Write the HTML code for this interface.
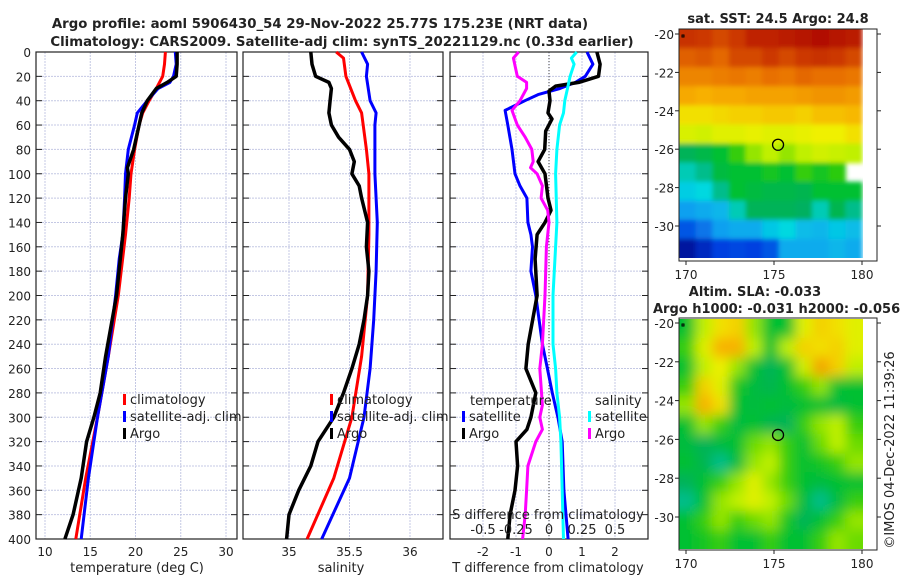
<!DOCTYPE html>
<html><head><meta charset="utf-8"><style>
html,body{margin:0;padding:0;background:#fff;}
svg text{font-family:"DejaVu Sans","Liberation Sans",sans-serif;fill:#222;}
</style></head><body>
<svg id="fig" width="900" height="580" viewBox="0 0 900 580" xmlns="http://www.w3.org/2000/svg">
<defs>
<filter id="blur" x="-0.2" y="-0.2" width="1.4" height="1.4"><feGaussianBlur stdDeviation="6"/></filter>
<filter id="blurSst" x="-0.2" y="-0.2" width="1.4" height="1.4"><feGaussianBlur stdDeviation="2.5"/></filter>
<clipPath id="clipSla"><rect x="679" y="319" width="184" height="230"/></clipPath>
<clipPath id="clipSst"><rect x="679" y="29" width="184" height="229"/></clipPath>
</defs>
<text x="320" y="28" text-anchor="middle" font-size="13.3" font-weight="bold">Argo profile: aoml 5906430_54 29-Nov-2022 25.77S 175.23E (NRT data)</text>
<text x="342" y="46" text-anchor="middle" font-size="13.3" font-weight="bold">Climatology: CARS2009. Satellite-adj clim: synTS_20221129.nc (0.33d earlier)</text>
<g id="plots"></g>
<text x="778" y="23" text-anchor="middle" font-size="13" font-weight="bold">sat. SST: 24.5 Argo: 24.8</text>
<text x="755" y="296" text-anchor="middle" font-size="13" font-weight="bold">Altim. SLA: -0.033</text>
<text x="653" y="313" font-size="13" font-weight="bold">Argo h1000: -0.031 h2000: -0.056</text>
<text transform="translate(894,450) rotate(-90)" text-anchor="middle" font-size="13">©IMOS 04-Dec-2022 11:39:26</text>
</svg>
<script>
// ---- data ----
const depthTclim = [0,10,20,30,40,50,60,80,100,120,150,200,250,300,350,400];
const tempClim   = [23.3,23.2,23.0,22.3,21.5,20.8,20.4,19.9,19.5,19.3,18.9,18.1,17.0,15.8,14.5,13.4];
const depthTsat  = [0,10,20,25,30,40,50,60,80,100,120,150,170,200,250,300,350,400];
const tempSat    = [24.4,24.5,24.2,23.8,22.5,21.3,20.2,19.9,19.2,18.9,18.8,18.6,18.2,17.8,17.0,15.8,14.8,14.0];
const depthTargo = [0,10,20,25,30,40,50,60,80,95,100,120,150,200,250,280,300,320,350,380,400];
const tempArgo   = [24.6,24.6,24.5,23.5,22.3,21.3,20.7,20.4,19.8,19.1,19.2,18.9,18.6,17.9,16.7,16.1,15.4,14.6,14.0,13.1,12.2];

const depthSclim = [0,5,20,40,50,80,100,150,200,250,300,350,400];
const salClim    = [35.39,35.45,35.47,35.55,35.6,35.64,35.66,35.66,35.65,35.6,35.52,35.37,35.15];
const depthSsat  = [0,10,20,40,50,60,100,140,180,220,260,300,350,400];
const salSat     = [35.6,35.65,35.64,35.67,35.72,35.71,35.71,35.73,35.72,35.7,35.67,35.62,35.5,35.27];
const depthSargo = [0,10,20,25,30,40,50,60,70,80,90,100,110,120,140,160,180,200,220,240,260,280,300,320,340,360,380,400];
const salArgo    = [35.18,35.19,35.22,35.33,35.35,35.34,35.33,35.35,35.41,35.5,35.54,35.52,35.58,35.6,35.65,35.64,35.66,35.65,35.62,35.58,35.52,35.45,35.37,35.24,35.18,35.08,35.0,34.98];

const depthDTsat = [0,10,20,25,30,35,40,48,60,80,100,110,120,140,150,160,180,200,220,240,260,280,300,320,360,400];
const dTsat      = [1.15,1.33,1.1,0.8,0.33,-0.33,-0.73,-1.33,-1.25,-1.12,-1.03,-0.88,-0.67,-0.64,-0.55,-0.5,-0.55,-0.4,-0.3,-0.2,-0.05,0.1,0.27,0.4,0.45,0.58];
const depthDTargo = [0,10,20,25,28,32,40,50,55,65,80,90,100,120,130,140,150,170,200,240,260,280,300,310,320,340,360,380,400];
const dTargo      = [1.45,1.55,1.5,0.9,0.2,0.0,0.03,-0.03,0.09,-0.1,-0.13,-0.33,-0.12,-0.03,0.06,-0.12,-0.36,-0.42,-0.36,-0.63,-0.7,-0.4,-0.55,-0.67,-1.0,-0.95,-1.03,-1.18,-1.25];
const depthDSsat = [0,5,10,20,30,40,50,60,80,100,140,180,200,240,260,280,300,320,360,400];
const dSsat      = [0.21,0.17,0.19,0.16,0.14,0.12,0.11,0.08,0.06,0.05,0.06,0.04,0.03,0.03,0.05,0.06,0.08,0.09,0.1,0.11];
const depthDSargo = [0,5,20,25,30,40,48,60,70,80,90,95,100,110,120,130,140,160,200,240,260,290,300,310,320,340,360,380,400];
const dSargo      = [-0.23,-0.27,-0.24,-0.17,-0.17,-0.22,-0.28,-0.24,-0.18,-0.13,-0.12,-0.14,-0.09,-0.05,-0.06,-0.01,0.0,-0.02,-0.03,-0.05,-0.07,-0.05,-0.07,-0.05,-0.1,-0.16,-0.17,-0.18,-0.2];

const sstGrid = [
[0.93,0.92,0.90,0.92,0.95,0.95,0.96,0.97,0.98,0.97,0.96],
[0.87,0.88,0.86,0.90,0.90,0.92,0.90,0.92,0.93,0.92,0.90],
[0.82,0.82,0.83,0.84,0.83,0.85,0.84,0.86,0.85,0.85,0.84],
[0.77,0.76,0.77,0.77,0.78,0.78,0.78,0.79,0.80,0.80,0.79],
[0.70,0.70,0.71,0.72,0.72,0.73,0.73,0.72,0.74,0.74,0.75],
[0.65,0.64,0.66,0.66,0.67,0.66,0.66,0.67,0.68,0.68,0.70],
[0.45,0.47,0.50,0.55,0.60,0.62,0.60,0.62,0.64,0.63,0.62],
[0.40,0.42,0.48,0.50,0.50,0.52,0.50,0.55,0.52,0.54,null],
[0.36,0.38,0.42,0.50,0.48,0.47,0.47,0.46,0.50,0.50,0.50],
[0.28,0.30,0.32,0.40,0.45,0.45,0.45,0.44,0.40,0.46,0.42],
[0.18,0.22,0.28,0.30,0.30,0.35,0.38,0.33,0.32,0.35,0.33],
[0.05,0.10,0.15,0.16,0.15,0.18,0.30,0.30,0.30,0.32,0.30]];
const slaGrid = [
[0.50,0.62,0.70,0.72,0.60,0.50,0.50,0.66,0.72,0.70,0.66],
[0.55,0.66,0.76,0.76,0.62,0.50,0.62,0.72,0.70,0.72,0.66],
[0.50,0.62,0.68,0.60,0.50,0.45,0.50,0.64,0.78,0.72,0.62],
[0.55,0.72,0.66,0.52,0.48,0.46,0.50,0.55,0.60,0.50,0.50],
[0.60,0.76,0.70,0.50,0.48,0.50,0.48,0.50,0.50,0.48,0.50],
[0.50,0.60,0.55,0.48,0.50,0.46,0.45,0.55,0.60,0.62,0.55],
[0.48,0.45,0.48,0.50,0.58,0.60,0.55,0.50,0.58,0.62,0.58],
[0.50,0.46,0.42,0.48,0.60,0.62,0.55,0.50,0.52,0.55,0.60],
[0.45,0.50,0.55,0.60,0.66,0.60,0.55,0.50,0.48,0.50,0.50],
[0.42,0.50,0.60,0.62,0.66,0.62,0.58,0.48,0.42,0.48,0.55],
[0.50,0.55,0.60,0.55,0.58,0.60,0.52,0.45,0.50,0.55,0.60],
[0.50,0.52,0.55,0.50,0.50,0.55,0.50,0.50,0.55,0.60,0.58]];
const argoLon = 175.23, argoLat = -25.77;
const depthTicks = [0,20,40,60,80,100,120,140,160,180,200,220,240,260,280,300,320,340,360,380,400];

// ---- drawing ----
const NS='http://www.w3.org/2000/svg';
const root=document.getElementById('plots');
function mk(tag,attrs,parent){const e=document.createElementNS(NS,tag);for(const k in attrs)e.setAttribute(k,attrs[k]);(parent||root).appendChild(e);return e;}
const yTop=52,yBot=539;
const yD=d=>yTop+(d/400)*(yBot-yTop);
function lin(d0,d1,r0,r1){return v=>r0+(v-d0)/(d1-d0)*(r1-r0);}

function panel(name,x0,x1,xs,xticks,xlabels,showY){
  const g=mk('g',{});
  
  
  xticks.forEach(t=>{const gx=mk('line',{x1:xs(t),x2:xs(t),y1:yTop,y2:yBot,stroke:'#c4c8e4','stroke-width':1,'stroke-dasharray':'2,1'},g);
    });
  depthTicks.forEach(d=>{const gy=mk('line',{x1:x0,x2:x1,y1:yD(d),y2:yD(d),stroke:'#c4c8e4','stroke-width':1,'stroke-dasharray':'2,1'},g);
    
    mk('line',{x1:x0,x2:x0+6,y1:yD(d),y2:yD(d),stroke:'#222'},g);
    mk('line',{x1:x1-6,x2:x1,y1:yD(d),y2:yD(d),stroke:'#222'},g);
    if(showY){const t=mk('text',{x:x0-5,y:yD(d)+5,'text-anchor':'end','font-size':12},g);t.textContent=d;
      }
  });
  if(xlabels){xticks.forEach((t,i)=>{const tx=mk('text',{x:xs(t),y:556,'text-anchor':'middle','font-size':12},g);tx.textContent=xlabels[i];
    });}
  const fr=mk('rect',{x:x0,y:yTop,width:x1-x0,height:yBot-yTop,fill:'none',stroke:'#222','stroke-width':1.2},g);
  
  return g;
}
function series(g,name,xs,depths,vals,color,w){
  const pts=vals.map((v,i)=>xs(v).toFixed(1)+','+yD(depths[i]).toFixed(1)).join(' ');
  const p=mk('polyline',{points:pts,fill:'none',stroke:color,'stroke-width':w||3,'stroke-linejoin':'round'},g);
  
  
}
function legend(g,x,y,color,label,name){
  const r=mk('rect',{x:x,y:y-10,width:3,height:11,fill:color},g);
  
  const t=mk('text',{x:x+7,y:y,'font-size':13},g);t.textContent=label;
  
}
function txt(g,x,y,s,name,anchor,size){const t=mk('text',{x:x,y:y,'text-anchor':anchor||'middle','font-size':size||13},g);t.textContent=s;
  return t;}

// Panel 1 temperature
const xT=lin(10,30,45,226);
const p1=panel('temperature-panel',36,237,xT,[10,15,20,25,30],['10','15','20','25','30'],true);
series(p1,'temp-climatology-line',xT,depthTclim,tempClim,'#ff0000');
series(p1,'temp-satellite-line',xT,depthTsat,tempSat,'#0000ff');
series(p1,'temp-argo-line',xT,depthTargo,tempArgo,'#000000',3.5);
legend(p1,123,404,'#ff0000','climatology','legend-climatology');
legend(p1,123,421,'#0000ff','satellite-adj. clim','legend-satellite');
legend(p1,123,438,'#000000','Argo','legend-argo');
txt(p1,137,572,'temperature (deg C)','x-axis-title-temperature');

// Panel 2 salinity
const xS=lin(35,36,289,410);
const p2=panel('salinity-panel',243,443,xS,[35,35.5,36],['35','35.5','36'],false);
series(p2,'sal-climatology-line',xS,depthSclim,salClim,'#ff0000');
series(p2,'sal-satellite-line',xS,depthSsat,salSat,'#0000ff');
series(p2,'sal-argo-line',xS,depthSargo,salArgo,'#000000',3.5);
legend(p2,330,404,'#ff0000','climatology','legend-climatology-2');
legend(p2,330,421,'#0000ff','satellite-adj. clim','legend-satellite-2');
legend(p2,330,438,'#000000','Argo','legend-argo-2');
txt(p2,341,572,'salinity','x-axis-title-salinity');

// Panel 3 differences
const xdT=lin(0,1,549,582);
const xdS=lin(0,0.25,549,582);
const p3=panel('difference-panel',450,648,xdT,[-2,-1,0,1,2],['-2','-1','0','1','2'],false);
const zl=mk('line',{x1:xdT(0),x2:xdT(0),y1:yTop,y2:yBot,stroke:'#444','stroke-dasharray':'1,2'},p3);

series(p3,'dT-satellite-line',xdT,depthDTsat,dTsat,'#0000ff');
series(p3,'dT-argo-line',xdT,depthDTargo,dTargo,'#000000',3.5);
series(p3,'dS-satellite-line',xdS,depthDSsat,dSsat,'#00ffff');
series(p3,'dS-argo-line',xdS,depthDSargo,dSargo,'#ff00ff');
txt(p3,470,405,'temperature','legend-temperature-header','start');
legend(p3,462,421,'#0000ff','satellite','legend-dT-satellite');
legend(p3,462,438,'#000000','Argo','legend-dT-argo');
txt(p3,595,405,'salinity','legend-salinity-header','start');
legend(p3,588,421,'#00ffff','satellite','legend-dS-satellite');
legend(p3,588,438,'#ff00ff','Argo','legend-dS-argo');
txt(p3,548,519,'S difference from climatology','s-axis-title');
[-0.5,-0.25,0,0.25,0.5].forEach(v=>{txt(p3,xdS(v),534,String(v),'s-tick-label');});
txt(p3,548,572,'T difference from climatology','x-axis-title-diff');

// colormap
const cmStops=[[0,[0,0,127]],[0.15,[0,64,224]],[0.28,[16,160,240]],[0.38,[0,216,224]],[0.44,[0,176,96]],[0.5,[0,192,48]],[0.56,[64,208,0]],[0.62,[192,240,0]],[0.68,[240,240,0]],[0.76,[248,176,0]],[0.85,[232,112,0]],[0.93,[200,48,0]],[1,[168,0,0]]];
function cmap(v){for(let i=1;i<cmStops.length;i++){if(v<=cmStops[i][0]){const a=cmStops[i-1],b=cmStops[i],f=(v-a[0])/(b[0]-a[0]);
  const c=a[1].map((x,k)=>Math.round(x+(b[1][k]-x)*f));return 'rgb('+c.join(',')+')';}}return 'rgb(168,0,0)';}

function mapPanel(name,grid,fx0,fy0,fx1,fy1,imgTop,imgBot,latM20,latM30,filterId,clipId){
  const g=mk('g',{});
  
  const lonX=lin(170,180,686,862);
  const latY=lin(-20,-30,latM20,latM30);
  const lonW=169.6,lonE=180;
  const latN=-20+(imgTop-latM20)/(latM30-latM20)*-10, latS=-20+(imgBot-latM20)/(latM30-latM20)*-10;
  const nr=grid.length,nc=grid[0].length;
  const dlat=(latN-latS)/nr,dlon=(lonE-lonW)/nc;
  const outer=mk('g',{'clip-path':'url(#'+clipId+')'},g);
  const cg=mk('g',{filter:'url(#'+filterId+')'},outer);
  const pad=16;
  grid.forEach((row,i)=>row.forEach((v,j)=>{
    if(v===null)return;
    let x=lonX(lonW+j*dlon),y=latY(latN-i*dlat);
    let x2=lonX(lonW+(j+1)*dlon)+0.6,y2=latY(latN-(i+1)*dlat)+0.6;
    if(j===0)x-=pad; if(i===0)y-=pad; if(i===nr-1)y2+=pad;
    if(j===nc-1 && filterId==='blur')x2+=pad;
    const c=mk('rect',{x:x.toFixed(1),y:y.toFixed(1),width:(x2-x).toFixed(1),height:(y2-y).toFixed(1),fill:cmap(v)},cg);
    
    
  }));
  const fr=mk('rect',{x:fx0,y:fy0,width:fx1-fx0,height:fy1-fy0,fill:'none',stroke:'#222','stroke-width':1},g);
  
  [170,175,180].forEach(l=>{mk('line',{x1:lonX(l),x2:lonX(l),y1:fy1,y2:fy1+4,stroke:'#222'},g);
    txt(g,lonX(l),fy1+18,String(l),'lon-tick-label','middle',12);});
  [-20,-22,-24,-26,-28,-30].forEach(l=>{mk('line',{x1:fx0-4,x2:fx0,y1:latY(l),y2:latY(l),stroke:'#222'},g);
    mk('line',{x1:fx1,x2:fx1+4,y1:latY(l),y2:latY(l),stroke:'#222'},g);
    txt(g,fx0-5,latY(l)+5,String(l),'lat-tick-label','end',12);});
  const c=mk('circle',{cx:lonX(argoLon),cy:latY(argoLat),r:5.5,fill:'none',stroke:'#000','stroke-width':1.3},g);
  
  mk('rect',{x:682,y:fy0+6,width:2,height:2,fill:'none',stroke:'#000','stroke-width':1},g);
}
mapPanel('sst-map',sstGrid,679,29,877,261,29,258,34,226,'blurSst','clipSst');
mapPanel('sla-map',slaGrid,679,318,877,550,319,549,323,517,'blur','clipSla');
</script>
</body></html>
